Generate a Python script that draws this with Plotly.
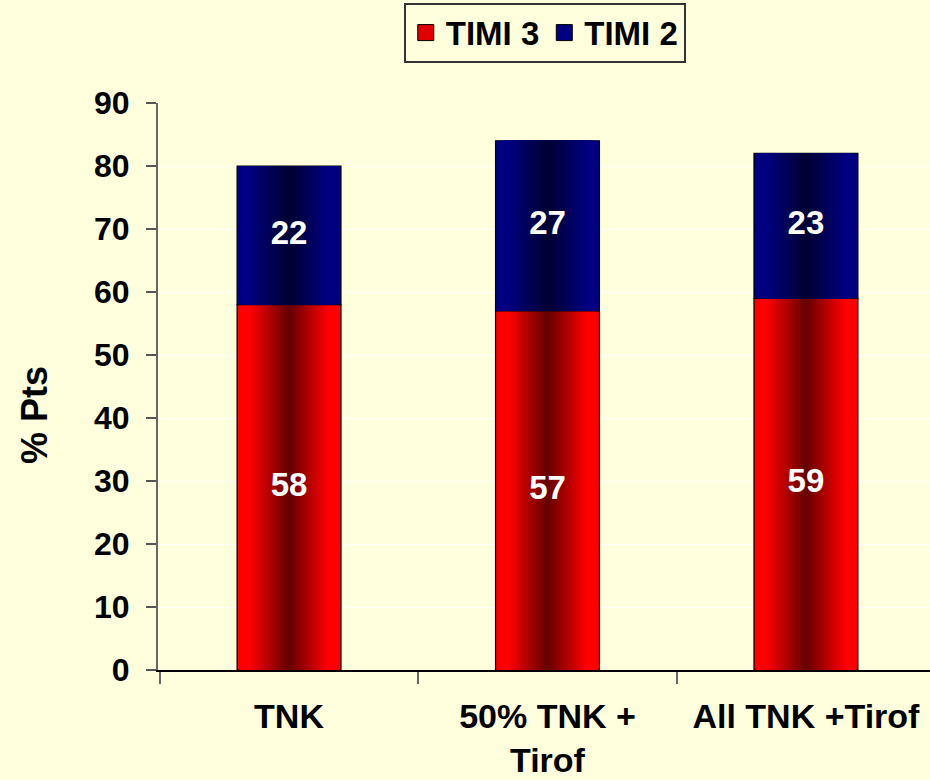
import plotly.graph_objects as go

categories = ["TNK", "50% TNK +<br>Tirof", "All TNK +Tirof"]
timi3 = [58, 57, 59]
timi2 = [22, 27, 23]
y_ticks = [0, 10, 20, 30, 40, 50, 60, 70, 80, 90]

BG = "#FFFFDD"
FONT = "Liberation Sans, Arial, sans-serif"
BAR_W = 0.402
N = 24


def lerp(c1, c2, f):
    return "rgb(%d,%d,%d)" % tuple(round(a + (b - a) * f) for a, b in zip(c1, c2))


series = [
    ("TIMI 3", timi3, [0, 0, 0], (255, 0, 0), (96, 0, 0), "#E00000"),
    ("TIMI 2", timi2, timi3, (0, 0, 128), (0, 0, 48), "#000080"),
]

fig = go.Figure()
for name, vals, base, edge, center, legcol in series:
    for k in range(N):
        s = 1 - k / N  # half-width fraction
        f = max(0.0, 1 - min(1.0, s / 0.78))  # 0 at edge, 1 at center
        col = lerp(edge, center, f)
        fig.add_trace(go.Bar(
            x=categories, y=vals, base=base,
            width=BAR_W * s,
            marker=dict(color=col, line=dict(color="black", width=1.2 if k == 0 else 0)),
            name=name, showlegend=False, legendgroup=name,
            hoverinfo="skip",
        ))
    # legend-only marker
    fig.add_trace(go.Scatter(
        x=[None], y=[None], mode="markers", name=name, legendgroup=name,
        marker=dict(symbol="square", size=16, color=legcol, line=dict(color="black", width=1)),
        showlegend=True, hoverinfo="skip",
    ))

for vals, base in [(timi3, [0, 0, 0]), (timi2, timi3)]:
    fig.add_trace(go.Scatter(
        x=categories, y=[b + v / 2 for b, v in zip(base, vals)],
        text=[str(v) for v in vals], mode="text",
        textfont=dict(color="white", size=33, family=FONT, weight="bold"),
        showlegend=False, hoverinfo="skip",
    ))

fig.update_layout(
    width=930, height=780,
    barmode="overlay",
    paper_bgcolor=BG, plot_bgcolor=BG,
    margin=dict(l=158, r=0, t=103, b=110, autoexpand=False),
    font=dict(family=FONT, size=32, color="black", weight="bold"),
    legend=dict(
        orientation="h", x=0.501, y=1.177, xanchor="center", yanchor="top",
        bgcolor=BG, bordercolor="#333333", borderwidth=2,
        font=dict(size=33, family=FONT, weight="bold"),
        traceorder="normal", itemwidth=30, tracegroupgap=0,
    ),
    xaxis=dict(
        type="category", range=[-0.507, 2.48], automargin=False,
        tickson="boundaries", ticks="outside", ticklen=12, tickwidth=2, tickcolor="#666666",
        showline=True, linecolor="black", linewidth=2,
        showgrid=False, tickfont=dict(size=34, family=FONT, weight="bold"),
        ticklabelstandoff=15,
    ),
    yaxis=dict(
        range=[0, 90], tickvals=y_ticks, automargin=False,
        ticks="outside", ticklen=10, tickwidth=2, tickcolor="#555555",
        showline=True, linecolor="#666666", linewidth=2,
        showgrid=True, gridcolor="rgba(255,255,255,0.9)", gridwidth=1,
        zeroline=False,
        tickfont=dict(size=32, family=FONT, weight="bold"),
        ticklabelstandoff=10,
    ),
    annotations=[dict(
        text="% Pts", textangle=-90, xref="paper", yref="paper",
        x=-0.159, y=0.45, xanchor="center", yanchor="middle", showarrow=False,
        font=dict(size=36, family=FONT, weight="bold", color="black"),
    )],
)

fig.write_html("out.html", config={"displayModeBar": False},
               post_script="document.body.style.margin='0px';")
